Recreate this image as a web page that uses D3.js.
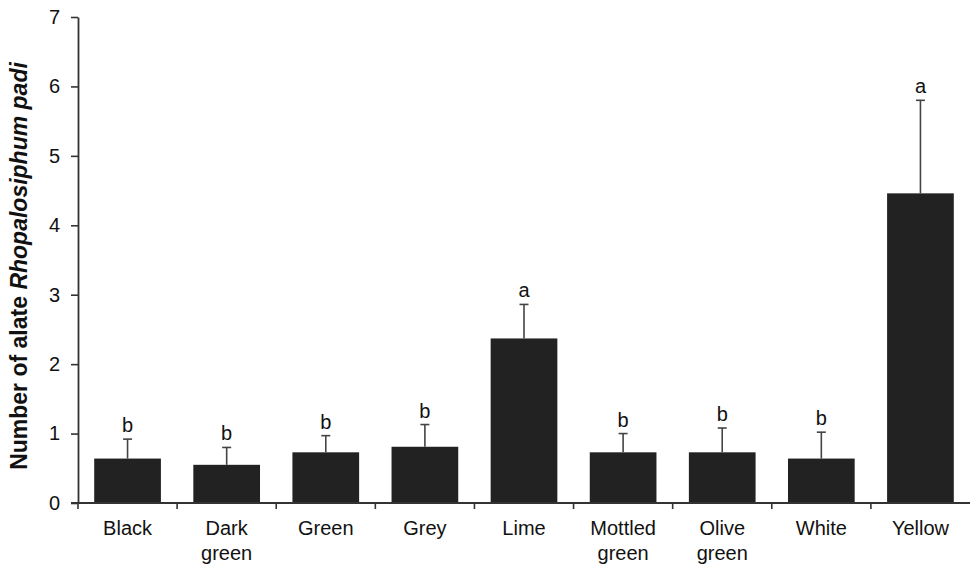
<!DOCTYPE html>
<html>
<head>
<meta charset="utf-8">
<script src="https://cdn.jsdelivr.net/npm/d3@7"></script>
<style>
  html, body { margin: 0; padding: 0; background: #fff; }
  svg { display: block; font-family: "Liberation Sans", Arial, sans-serif; }
</style>
</head>
<body>
<svg id="chart" width="970" height="565"></svg>
<script>
// Trap colour choice: mean catch per trap colour, upper standard error, significance letters
const categories = ["Black", "Dark green", "Green", "Grey", "Lime", "Mottled green", "Olive green", "White", "Yellow"];
const means      = [0.64, 0.55, 0.73, 0.81, 2.37, 0.73, 0.73, 0.64, 4.46];
const errorTops  = [0.92, 0.80, 0.97, 1.13, 2.86, 1.00, 1.08, 1.02, 5.80];
const letters    = ["b", "b", "b", "b", "a", "b", "b", "b", "a"];
const yTicks     = [0, 1, 2, 3, 4, 5, 6, 7];

const svg = d3.select("#chart");
const plotLeft = 78, plotRight = 970, plotTop = 17, plotBottom = 503;

const x = d3.scaleBand()
  .domain(categories)
  .range([plotLeft, plotRight])
  .paddingInner(0.327)
  .paddingOuter(0.1635);

const y = d3.scaleLinear().domain([0, 7]).range([plotBottom, plotTop]);

const ink = "#222";
const lineCol = "#333";

// Bars
svg.append("g").selectAll("rect")
  .data(categories)
  .join("rect")
  .attr("x", d => x(d))
  .attr("width", x.bandwidth())
  .attr("y", (d, i) => y(means[i]))
  .attr("height", (d, i) => y(0) - y(means[i]))
  .attr("fill", ink);

// Upper error bars
const capHalf = 4.5;
const eb = svg.append("g").attr("stroke", "#444").attr("stroke-width", 1.6).attr("fill", "none");
categories.forEach((c, i) => {
  const cx = x(c) + x.bandwidth() / 2;
  eb.append("line").attr("x1", cx).attr("x2", cx).attr("y1", y(means[i])).attr("y2", y(errorTops[i]));
  eb.append("line").attr("x1", cx - capHalf).attr("x2", cx + capHalf).attr("y1", y(errorTops[i])).attr("y2", y(errorTops[i]));
});

// Significance letters
svg.append("g").selectAll("text")
  .data(categories)
  .join("text")
  .attr("x", d => x(d) + x.bandwidth() / 2)
  .attr("y", (d, i) => y(errorTops[i]) - 7)
  .attr("text-anchor", "middle")
  .attr("font-size", 20)
  .attr("fill", "#111")
  .text((d, i) => letters[i]);

// Y axis
const yAxis = svg.append("g")
  .attr("transform", `translate(${plotLeft},0)`)
  .call(d3.axisLeft(y).tickValues(yTicks).tickFormat(d3.format("d")).tickSize(7).tickPadding(11).tickSizeOuter(0));
yAxis.select(".domain").attr("stroke", lineCol).attr("stroke-width", 1.8);
yAxis.selectAll(".tick line").attr("stroke", lineCol).attr("stroke-width", 1.6);
yAxis.selectAll(".tick text").attr("font-size", 20).attr("fill", "#111")
  .attr("font-family", "Liberation Sans, Arial, sans-serif");

// X axis: baseline, boundary ticks and wrapped category labels
const xAxis = svg.append("g").attr("transform", `translate(0,${plotBottom})`);
xAxis.append("line").attr("x1", plotLeft - 7).attr("x2", plotRight).attr("y1", 0).attr("y2", 0)
  .attr("stroke", lineCol).attr("stroke-width", 1.8);
d3.range(categories.length).forEach(i => {
  const bx = plotLeft + x.step() * i;
  xAxis.append("line").attr("x1", bx).attr("x2", bx).attr("y1", 0).attr("y2", 6)
    .attr("stroke", lineCol).attr("stroke-width", 1.6);
});
const lab = xAxis.selectAll("text.cat")
  .data(categories)
  .join("text")
  .attr("class", "cat")
  .attr("text-anchor", "middle")
  .attr("font-size", 20)
  .attr("fill", "#111")
  .attr("transform", d => `translate(${x(d) + x.bandwidth() / 2},32)`);
lab.each(function(d) {
  const words = d.split(" ");
  d3.select(this).selectAll("tspan")
    .data(words)
    .join("tspan")
    .attr("x", 0)
    .attr("dy", (w, j) => j === 0 ? 0 : 25)
    .text(w => w);
});

// Y axis title
const title = svg.append("text")
  .attr("transform", `translate(27,${(plotTop + plotBottom) / 2 + 6}) rotate(-90)`)
  .attr("text-anchor", "middle")
  .attr("font-size", 23)
  .attr("font-weight", "bold")
  .attr("fill", "#111");
title.append("tspan").text("Number of alate ");
title.append("tspan").attr("font-style", "italic").text("Rhopalosiphum padi");
</script>
</body>
</html>
